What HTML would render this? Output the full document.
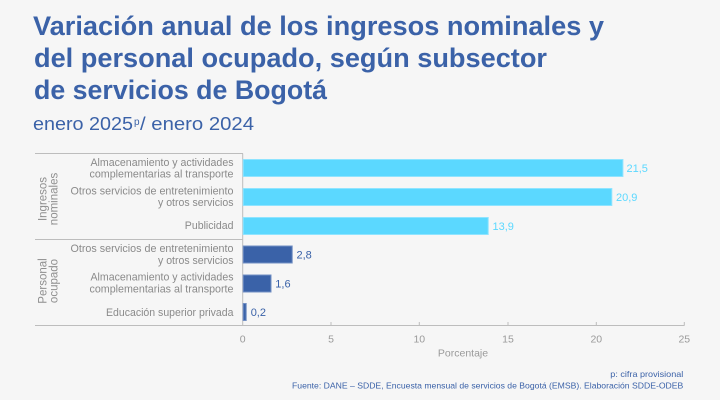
<!DOCTYPE html>
<html>
<head>
<meta charset="utf-8">
<style>
  html,body{margin:0;padding:0;background:#f6f6f6;}
  svg{display:block;}
  text{font-family:"Liberation Sans", "DejaVu Sans", sans-serif;}
</style>
</head>
<body>
<svg width="720" height="400" viewBox="0 0 720 400" xmlns="http://www.w3.org/2000/svg">
  <rect x="0" y="0" width="720" height="400" fill="#f6f6f6"/>

  <!-- Title -->
  <g fill="#3b62a8" font-weight="bold" font-size="27">
    <text x="33" y="35" textLength="571" lengthAdjust="spacingAndGlyphs">Variación anual de los ingresos nominales y</text>
    <text x="34" y="67" textLength="513" lengthAdjust="spacingAndGlyphs">del personal ocupado, según subsector</text>
    <text x="34" y="99" textLength="293" lengthAdjust="spacingAndGlyphs">de servicios de Bogotá</text>
  </g>
  <!-- Subtitle -->
  <g fill="#3b62a8" font-size="18">
    <text x="33" y="130" textLength="100" lengthAdjust="spacingAndGlyphs">enero 2025</text>
    <text x="134" y="125" font-size="10">p</text>
    <text x="140" y="130" textLength="114" lengthAdjust="spacingAndGlyphs">/ enero 2024</text>
  </g>

  <!-- Frame lines -->
  <g stroke="#bdbdbd" stroke-width="1" fill="none">
    <line x1="35" y1="153.5" x2="243" y2="153.5"/>
    <line x1="35" y1="239.5" x2="243" y2="239.5"/>
    <line x1="35" y1="325.5" x2="684.5" y2="325.5"/>
    <line x1="242.7" y1="153.5" x2="242.7" y2="325.5"/>
    <line x1="331" y1="322" x2="331" y2="325.5"/>
    <line x1="419.3" y1="322" x2="419.3" y2="325.5"/>
    <line x1="508" y1="322" x2="508" y2="325.5"/>
    <line x1="596.3" y1="322" x2="596.3" y2="325.5"/>
    <line x1="684.3" y1="322" x2="684.3" y2="325.5"/>
  </g>

  <!-- Group labels (rotated) -->
  <g fill="#8e8e8e" font-size="11.5" text-anchor="middle">
    <text transform="translate(46.5,199) rotate(-90)">Ingresos</text>
    <text transform="translate(57.5,199) rotate(-90)">nominales</text>
    <text transform="translate(46.5,281) rotate(-90)">Personal</text>
    <text transform="translate(57.5,281) rotate(-90)">ocupado</text>
  </g>

  <!-- Category labels -->
  <g fill="#8a8a8a" font-size="11" text-anchor="end">
    <text x="233.5" y="165.8" textLength="143" lengthAdjust="spacingAndGlyphs">Almacenamiento y actividades</text>
    <text x="233.5" y="177.3" textLength="144" lengthAdjust="spacingAndGlyphs">complementarias al transporte</text>
    <text x="233.5" y="194.6" textLength="163" lengthAdjust="spacingAndGlyphs">Otros servicios de entretenimiento</text>
    <text x="233.5" y="206.2" textLength="75.5" lengthAdjust="spacingAndGlyphs">y otros servicios</text>
    <text x="233.5" y="228.9" textLength="48.7" lengthAdjust="spacingAndGlyphs">Publicidad</text>
    <text x="233.5" y="252.2" textLength="163" lengthAdjust="spacingAndGlyphs">Otros servicios de entretenimiento</text>
    <text x="233.5" y="263.8" textLength="75.5" lengthAdjust="spacingAndGlyphs">y otros servicios</text>
    <text x="233.5" y="280.6" textLength="143" lengthAdjust="spacingAndGlyphs">Almacenamiento y actividades</text>
    <text x="233.5" y="292.7" textLength="144" lengthAdjust="spacingAndGlyphs">complementarias al transporte</text>
    <text x="233.5" y="315.9" textLength="127.5" lengthAdjust="spacingAndGlyphs">Educación superior privada</text>
  </g>

  <!-- Bars -->
  <g stroke-width="1">
    <rect x="243.2" y="159.5" width="379.7" height="17" fill="#5bd8ff" stroke="#8fe4ff"/>
    <rect x="243.2" y="188.5" width="368.6" height="17" fill="#5bd8ff" stroke="#8fe4ff"/>
    <rect x="243.2" y="217.5" width="245.0" height="17" fill="#5bd8ff" stroke="#8fe4ff"/>
    <rect x="243.2" y="246" width="49.0" height="17" fill="#3a62a8" stroke="#7390c4"/>
    <rect x="243.2" y="275" width="27.8" height="17" fill="#3a62a8" stroke="#7390c4"/>
    <rect x="243.2" y="303.5" width="3.0" height="17" fill="#3a62a8" stroke="#7390c4"/>
  </g>

  <!-- Value labels -->
  <g font-size="11">
    <text x="626.5" y="172" fill="#5bd8ff">21,5</text>
    <text x="616" y="201" fill="#5bd8ff">20,9</text>
    <text x="492.5" y="230" fill="#5bd8ff">13,9</text>
    <text x="296.5" y="258.5" fill="#3a62a8">2,8</text>
    <text x="275.3" y="287.5" fill="#3a62a8">1,6</text>
    <text x="250.7" y="316" fill="#3a62a8">0,2</text>
  </g>

  <!-- Tick labels -->
  <g fill="#9a9a9a" font-size="10.5" text-anchor="middle">
    <text x="242.7" y="342.7">0</text>
    <text x="331" y="342.7">5</text>
    <text x="419.3" y="342.7">10</text>
    <text x="508" y="342.7">15</text>
    <text x="596.3" y="342.7">20</text>
    <text x="684.3" y="342.7">25</text>
    <text x="463" y="356.7" font-size="10.5">Porcentaje</text>
  </g>

  <!-- Footnotes -->
  <g fill="#3b62a8" font-size="8.3">
    <text x="683.3" y="377" text-anchor="end" textLength="73" lengthAdjust="spacingAndGlyphs">p: cifra provisional</text>
    <text x="292" y="388.5" textLength="391.3" lengthAdjust="spacingAndGlyphs">Fuente: DANE – SDDE, Encuesta mensual de servicios de Bogotá (EMSB). Elaboración SDDE-ODEB</text>
  </g>
</svg>
</body>
</html>
